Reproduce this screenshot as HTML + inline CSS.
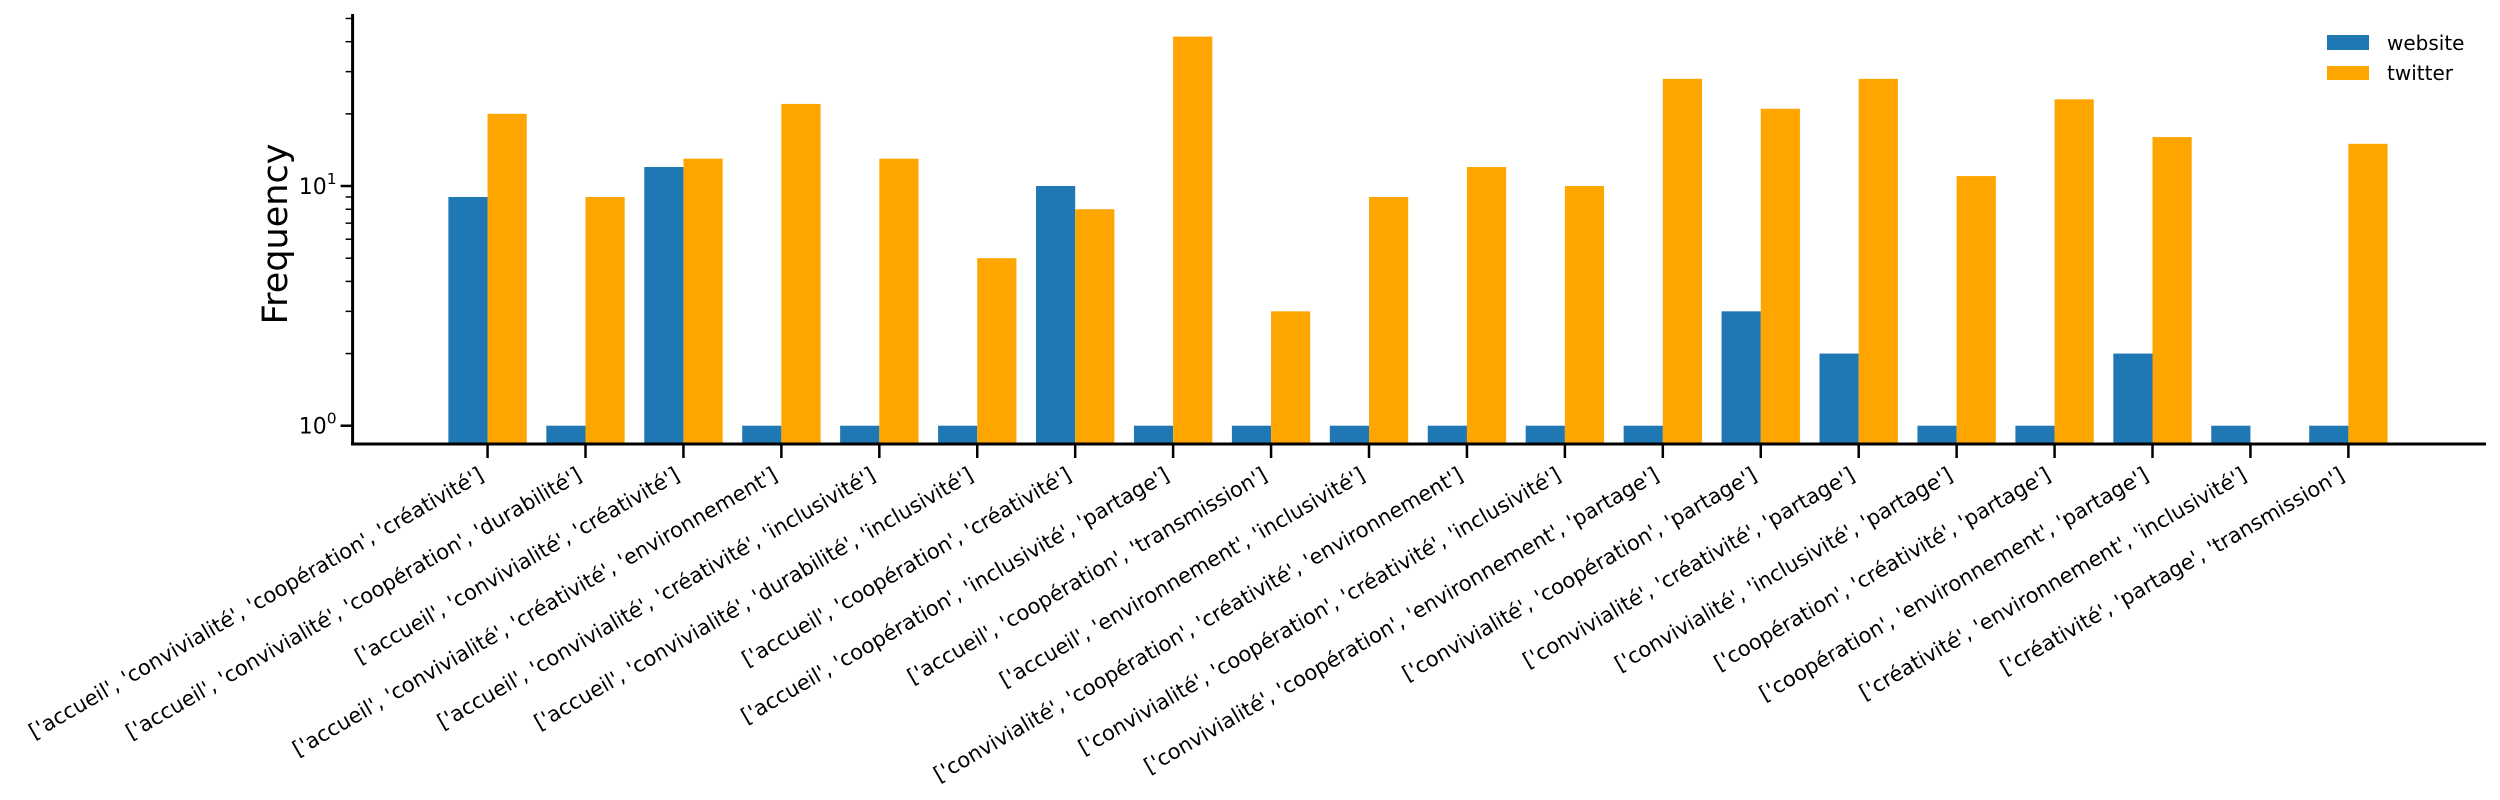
<!DOCTYPE html>
<html><head><meta charset="utf-8">
<style>
html,body{margin:0;padding:0;background:#fff;}
svg{display:block;font-family:"DejaVu Sans","Liberation Sans",sans-serif;}
</style></head>
<body>
<svg id="chart" width="2500" height="800" viewBox="0 0 2500 800" xmlns="http://www.w3.org/2000/svg">
<g id="bars"></g>
<g id="xticks"></g>
<g id="yticks"></g>
<line x1="352.6" y1="14" x2="352.6" y2="445.5" stroke="#000" stroke-width="3"/>
<line x1="351" y1="444" x2="2486" y2="444" stroke="#000" stroke-width="3"/>
<text transform="translate(287,234) rotate(-90)" text-anchor="middle" font-size="35" fill="#000">Frequency</text>
<g>
  <rect x="2327" y="35" width="42" height="15" fill="#1f77b4"/>
  <text x="2387" y="50" font-size="20">website</text>
  <rect x="2327" y="66" width="42" height="14" fill="#ffa500"/>
  <text x="2387" y="80" font-size="20">twitter</text>
</g>
</svg>
<script>
const categories = [
"['accueil', 'convivialité', 'coopération', 'créativité']",
"['accueil', 'convivialité', 'coopération', 'durabilité']",
"['accueil', 'convivialité', 'créativité']",
"['accueil', 'convivialité', 'créativité', 'environnement']",
"['accueil', 'convivialité', 'créativité', 'inclusivité']",
"['accueil', 'convivialité', 'durabilité', 'inclusivité']",
"['accueil', 'coopération', 'créativité']",
"['accueil', 'coopération', 'inclusivité', 'partage']",
"['accueil', 'coopération', 'transmission']",
"['accueil', 'environnement', 'inclusivité']",
"['convivialité', 'coopération', 'créativité', 'environnement']",
"['convivialité', 'coopération', 'créativité', 'inclusivité']",
"['convivialité', 'coopération', 'environnement', 'partage']",
"['convivialité', 'coopération', 'partage']",
"['convivialité', 'créativité', 'partage']",
"['convivialité', 'inclusivité', 'partage']",
"['coopération', 'créativité', 'partage']",
"['coopération', 'environnement', 'partage']",
"['créativité', 'environnement', 'inclusivité']",
"['créativité', 'partage', 'transmission']"
];
const websiteValues = [9,1,12,1,1,1,10,1,1,1,1,1,1,3,2,1,1,2,1,1];
const twitterValues = [20,9,13,22,13,5,8,42,3,9,12,10,28,21,28,11,23,16,0,15];
const yTickValues = [1,10];
const yTickLabels = ["0","1"];

const NS="http://www.w3.org/2000/svg";
const xLeft=352.6, xRight=2485.5, yTop=14, yBottom=444;
const xMin=-1.378, xMax=20.40;
const logMin=-0.0763, logMax=1.7176;
function xScale(v){return xLeft+(v-xMin)/(xMax-xMin)*(xRight-xLeft);}
function yScale(v){return yBottom-(Math.log10(v)-logMin)/(logMax-logMin)*(yBottom-yTop);}
const barW=0.4;
function mk(tag,attrs){const e=document.createElementNS(NS,tag);for(const k in attrs)e.setAttribute(k,attrs[k]);return e;}

const bars=document.getElementById('bars');
const xt=document.getElementById('xticks');
const yt=document.getElementById('yticks');
categories.forEach((c,i)=>{
  const series=[[websiteValues[i],-barW,'#1f77b4','website'],[twitterValues[i],0,'#ffa500','twitter']];
  series.forEach(s=>{
    if(s[0]<=0)return;
    const x0=xScale(i+s[1]), x1=xScale(i+s[1]+barW), y=yScale(s[0]);
    const r=mk('rect',{x:x0,y:y,width:x1-x0,height:yBottom-y,fill:s[2]});
    
    
    bars.appendChild(r);
  });
  const tx=xScale(i);
  const t=mk('line',{x1:tx,y1:yBottom,x2:tx,y2:yBottom+14,stroke:'#000','stroke-width':2.5});
  
  
  xt.appendChild(t);
  const lb=mk('text',{transform:`translate(${tx-2.5},${479}) rotate(-30)`,'text-anchor':'end','font-size':21,fill:'#000'});
  
  
  lb.textContent=c;
  xt.appendChild(lb);
});
yTickValues.forEach((v,i)=>{
  const y=yScale(v);
  const t=mk('line',{x1:xLeft-12,y1:y,x2:xLeft,y2:y,stroke:'#000','stroke-width':2.5});
  
  
  yt.appendChild(t);
  const lb=mk('text',{x:xLeft-16,y:y+8,'text-anchor':'end','font-size':22,fill:'#000'});
  
  
  lb.textContent='10';
  const sup=mk('tspan',{dy:-10,'font-size':15.5});
  sup.textContent=yTickLabels[i];
  lb.appendChild(sup);
  yt.appendChild(lb);
});
for(let d=0;d<=1;d++){
  for(let m=2;m<=9;m++){
    const v=m*Math.pow(10,d);
    const y=yScale(v);
    if(y<yTop||y>yBottom)continue;
    const t=mk('line',{x1:xLeft-7,y1:y,x2:xLeft,y2:y,stroke:'#000','stroke-width':1.5});
    
    
    yt.appendChild(t);
  }
}
</script>
</body></html>
